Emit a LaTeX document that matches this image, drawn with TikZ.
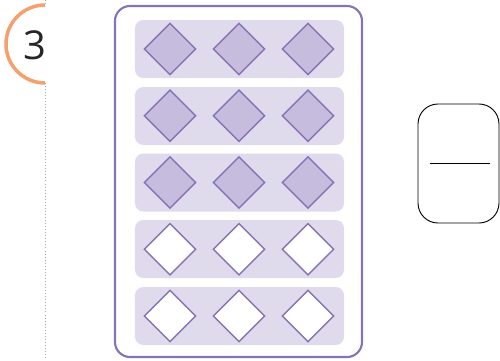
\documentclass[tikz,border=0pt]{standalone}
\usepackage{fontspec}
\setsansfont{Open Sans}
\usepackage{xcolor}
\usetikzlibrary{shapes.geometric}

\definecolor{pillpurple}{RGB}{135,115,178}
\definecolor{rowlilac}{RGB}{223,218,236}
\definecolor{takenlilac}{RGB}{198,189,222}
\definecolor{stepor}{RGB}{245,160,110}

\begin{document}
\begin{tikzpicture}[
        x=0.03cm, y=-0.03cm,
        pack/.style={draw=pillpurple, line width=1.8pt, rounded corners=0.45cm,
            minimum width=7.41cm, minimum height=10.53cm, inner sep=0pt},
        slot/.style={fill=rowlilac, rounded corners=0.25cm,
            minimum width=6.27cm, minimum height=1.74cm, inner sep=0pt},
        pill/.style={diamond, draw=pillpurple, line width=1.2pt, fill=white,
            minimum width=1.56cm, minimum height=1.56cm, inner sep=0pt},
        taken/.style={pill, fill=takenlilac},
        card/.style={draw=black, line width=0.8pt, rounded corners=0.6cm,
            minimum width=2.43cm, minimum height=3.57cm, inner sep=0pt},
        numarc/.style={draw=stepor, line width=3pt},
        guide/.style={draw=gray!70, dotted, line width=0.6pt}
    ]
        \useasboundingbox (0,0) rectangle (500,360);

        % step number
        \coordinate (gtop) at (45,0);
        \coordinate (garc) at (45,83);
        \coordinate (gbot) at (45,360);
        \draw[guide] (gtop) -- (45,5);
        \draw[guide] (garc) -- (gbot);
        \draw[numarc] (garc) arc[start angle=90, end angle=270, radius=39];
        \node[font=\sffamily\fontsize{34}{38}\selectfont, text=black!85] (num) at (35,45) {3};

        % blister pack
        \node[pack] (pack) at (238.5,181.5) {};
        \foreach \r/\y in {1/49, 2/116, 3/182.5, 4/249, 5/316} {
            \node[slot] (row\r) at (239.5,\y) {};
        }
        \foreach \r in {1,2,3} {
            \node[taken] (p\r a) at (170,{49+66.75*(\r-1)}) {};
            \node[taken] (p\r b) at (239,{49+66.75*(\r-1)}) {};
            \node[taken] (p\r c) at (308,{49+66.75*(\r-1)}) {};
        }
        \foreach \r in {4,5} {
            \node[pill] (p\r a) at (170,{49+66.75*(\r-1)}) {};
            \node[pill] (p\r b) at (239,{49+66.75*(\r-1)}) {};
            \node[pill] (p\r c) at (308,{49+66.75*(\r-1)}) {};
        }

        % answer card
        \node[card] (card) at (458.5,163.5) {};
        \coordinate (barL) at (430,163);
        \coordinate (barR) at (490,163);
        \draw[line width=0.8pt] (barL) -- (barR);
    \end{tikzpicture}
\end{document}
